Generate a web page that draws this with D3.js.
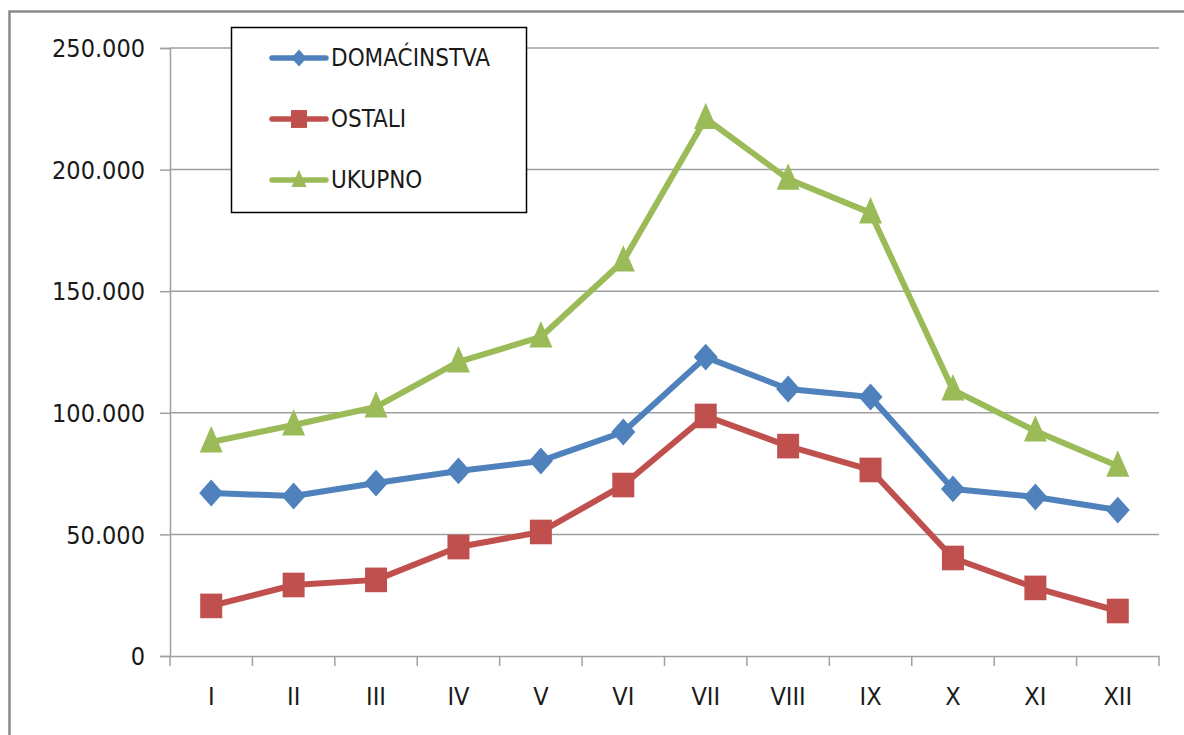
<!DOCTYPE html>
<html>
<head>
<meta charset="utf-8">
<script src="https://cdn.jsdelivr.net/npm/d3@7"></script>
<style>
	body { margin: 0; background: #fff; }
	text { font-family: "Liberation Sans Narrow", "DejaVu Sans Condensed", "Liberation Sans", sans-serif; fill: #1a1a1a; }
</style>
</head>
<body>
<div id="chart"></div>
<script>
// months (roman numerals) on the x axis
var months = ["I", "II", "III", "IV", "V", "VI", "VII", "VIII", "IX", "X", "XI", "XII"];

// series values
var domacinstva = [67000, 65800, 71100, 76100, 80200, 92100, 122900, 109800, 106500, 68700, 65400, 60000];
var ostali = [20600, 29200, 31300, 44800, 51000, 70300, 98700, 86300, 76500, 40300, 28000, 18500];
var ukupno = [88000, 95000, 102400, 120900, 131200, 162400, 221000, 196100, 182200, 109400, 92500, 78100];

var yTicks = [0, 50000, 100000, 150000, 200000, 250000];

var seriesNames = ["DOMAĆINSTVA", "OSTALI", "UKUPNO"];
var seriesColors = ["#4F81BD", "#C0504D", "#9BBB59"];

// custom marker shapes, size = width in px (height a bit taller, like the original)
var diamond = {
	draw: function(ctx, size) {
		var w = size / 2, h = size * 0.56;
		ctx.moveTo(0, -h); ctx.lineTo(w, 0); ctx.lineTo(0, h); ctx.lineTo(-w, 0); ctx.closePath();
	}
};
var square = {
	draw: function(ctx, size) {
		var w = size / 2, h = size * 0.56;
		ctx.moveTo(-w, -h); ctx.lineTo(w, -h); ctx.lineTo(w, h); ctx.lineTo(-w, h); ctx.closePath();
	}
};
var triangle = {
	draw: function(ctx, size) {
		var w = size / 2, h = size * 1.15;
		ctx.moveTo(0, -h * 0.6); ctx.lineTo(w, h * 0.4); ctx.lineTo(-w, h * 0.4); ctx.closePath();
	}
};
var seriesSymbols = [diamond, square, triangle];
var markerSizes = [24, 22, 23];
var legendSizes = [15, 16, 15];

var svgWidth = 1184;
var svgHeight = 735;

var margin = { top: 48, right: 25, bottom: 79, left: 170 };
var width = svgWidth - margin.left - margin.right;
var height = svgHeight - margin.top - margin.bottom;

var svg = d3.select("#chart")
	.append("svg")
	.attr("width", svgWidth)
	.attr("height", svgHeight);

// outer chart frame (runs past the right and bottom edges)
svg.append("path")
	.attr("d", `M9.5,${svgHeight + 5} V11.5 H${svgWidth + 5}`)
	.attr("fill", "none")
	.attr("stroke", "#8a8a8a")
	.attr("stroke-width", 2.5);

var chartGroup = svg.append("g")
	.attr("transform", `translate(${margin.left}, ${margin.top})`);

var xScale = d3.scaleBand()
	.domain(months)
	.range([0, width]);

var yScale = d3.scaleLinear()
	.domain([0, 250000])
	.range([height, 0]);

var locale = d3.formatLocale({ decimal: ",", thousands: ".", grouping: [3], currency: ["", ""] });
var fmt = locale.format(",");

// horizontal gridlines
chartGroup.append("g")
	.selectAll("line")
	.data(yTicks.slice(1))
	.enter()
	.append("line")
	.attr("x1", 0)
	.attr("x2", width)
	.attr("y1", d => yScale(d))
	.attr("y2", d => yScale(d))
	.attr("stroke", "#a0a0a0")
	.attr("stroke-width", 1.5);

// y axis
var yAxis = chartGroup.append("g")
	.call(d3.axisLeft(yScale).tickValues(yTicks).tickFormat(fmt).tickSize(10).tickPadding(15));
yAxis.select(".domain").attr("stroke", "#a0a0a0").attr("stroke-width", 1.5);
yAxis.selectAll(".tick line").attr("stroke", "#a0a0a0").attr("stroke-width", 1.5);
yAxis.selectAll(".tick text")
	.attr("font-size", 25)
	.attr("font-family", null)
	.attr("dy", "0.35em");

// x axis: labels at band centres, ticks at band edges
var xAxis = chartGroup.append("g")
	.attr("transform", `translate(0, ${height})`)
	.call(d3.axisBottom(xScale).tickSize(0).tickPadding(31));
xAxis.select(".domain").attr("stroke", "#a0a0a0").attr("stroke-width", 1.5);
xAxis.selectAll(".tick text")
	.attr("font-size", 25)
	.attr("font-family", null);

xAxis.selectAll(".edge")
	.data(months.concat(["end"]))
	.enter()
	.append("line")
	.attr("class", "edge")
	.attr("x1", (d, i) => i * xScale.step())
	.attr("x2", (d, i) => i * xScale.step())
	.attr("y1", 0)
	.attr("y2", 10)
	.attr("stroke", "#a0a0a0")
	.attr("stroke-width", 1.5);

// lines and markers
var allSeries = [domacinstva, ostali, ukupno];
var line = d3.line()
	.x((d, i) => xScale(months[i]) + xScale.bandwidth() / 2)
	.y(d => yScale(d));

allSeries.forEach((values, s) => {
	chartGroup.append("path")
		.datum(values)
		.attr("d", line)
		.attr("fill", "none")
		.attr("stroke", seriesColors[s])
		.attr("stroke-width", 6)
		.attr("stroke-linejoin", "round")
		.attr("stroke-linecap", "round");

	chartGroup.append("g")
		.selectAll("path")
		.data(values)
		.enter()
		.append("path")
		.attr("transform", (d, i) => `translate(${xScale(months[i]) + xScale.bandwidth() / 2}, ${yScale(d)})`)
		.attr("d", d3.symbol().type(seriesSymbols[s]).size(markerSizes[s]))
		.attr("fill", seriesColors[s]);
});

// legend
var legend = svg.append("g")
	.attr("transform", "translate(231, 27)");

legend.append("rect")
	.attr("x", 0.5)
	.attr("y", 0.5)
	.attr("width", 295)
	.attr("height", 185)
	.attr("fill", "#fff")
	.attr("stroke", "#000")
	.attr("stroke-width", 1.5);

seriesNames.forEach((name, s) => {
	var ly = 31 + s * 61;
	legend.append("line")
		.attr("x1", 41)
		.attr("x2", 95)
		.attr("y1", ly)
		.attr("y2", ly)
		.attr("stroke", seriesColors[s])
		.attr("stroke-width", 5.5)
		.attr("stroke-linecap", "round");
	legend.append("path")
		.attr("transform", `translate(68, ${ly})`)
		.attr("d", d3.symbol().type(seriesSymbols[s]).size(legendSizes[s]))
		.attr("fill", seriesColors[s]);
	legend.append("text")
		.attr("x", 100)
		.attr("y", ly)
		.attr("dy", "0.35em")
		.attr("font-size", 24)
		.text(name);
});
</script>
</body>
</html>
